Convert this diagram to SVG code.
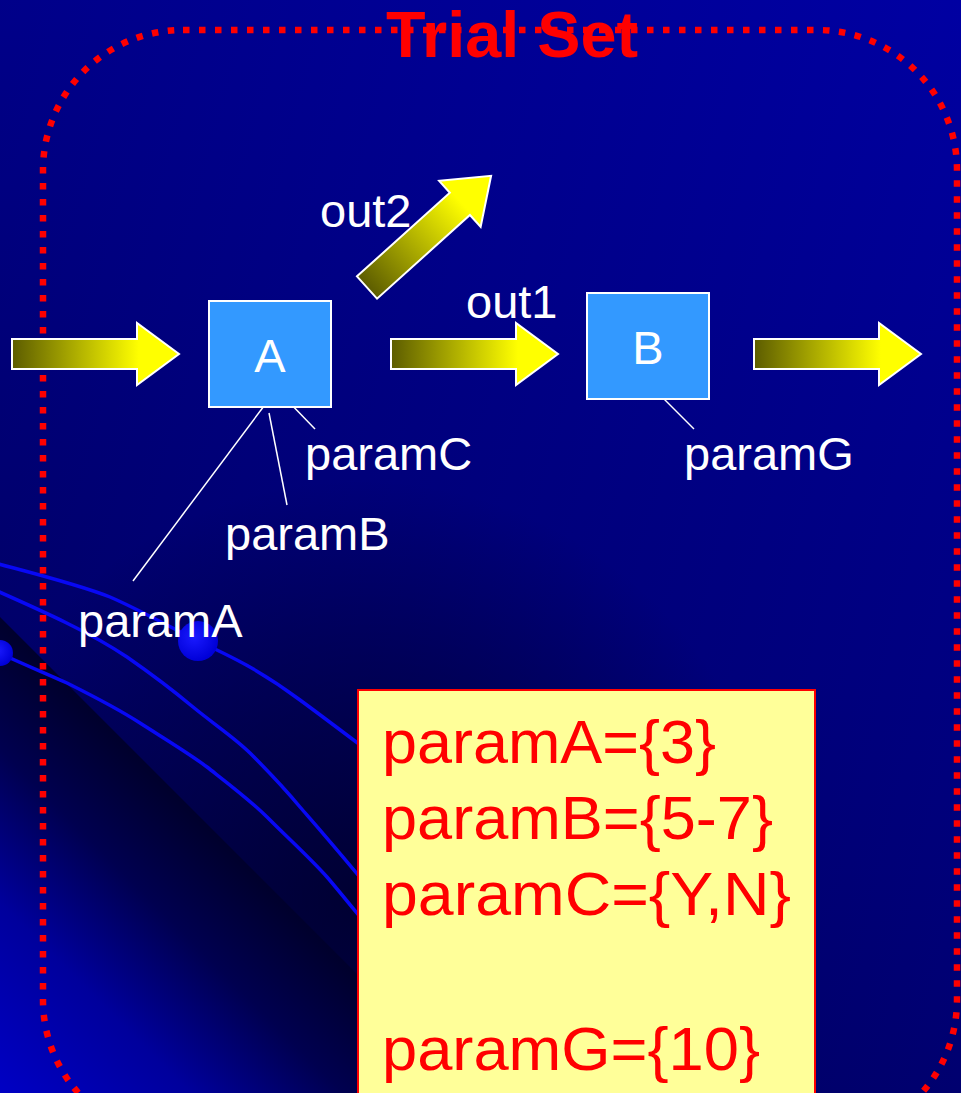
<svg xmlns="http://www.w3.org/2000/svg" width="961" height="1093" viewBox="0 0 961 1093">
<style>
  .lbl { font-family: "Liberation Sans", Arial, sans-serif; font-size: 47px; fill: #ffffff; }
  .node { fill: #3399ff; stroke: #ffffff; stroke-width: 2; }
  .lead { stroke: #ffffff; stroke-width: 1.5; fill: none; }
  .arrow { stroke: #ffffff; stroke-width: 2; stroke-linejoin: miter; }
  .curve { fill: none; stroke: #0808f4; stroke-width: 3.5; }
  .val { font-family: "Liberation Sans", Arial, sans-serif; font-size: 62px; fill: #ff0000; }
</style>
<defs>
  <linearGradient id="bgV" x1="0" y1="0" x2="0" y2="1">
    <stop offset="0" stop-color="#00009c"/>
    <stop offset="0.5" stop-color="#00007c"/>
    <stop offset="1" stop-color="#000062"/>
  </linearGradient>
  <linearGradient id="bgH" x1="0" y1="0" x2="1" y2="0">
    <stop offset="0" stop-color="#000000" stop-opacity="0.12"/>
    <stop offset="1" stop-color="#0000d0" stop-opacity="0.12"/>
  </linearGradient>
  <radialGradient id="darkSpot" cx="360" cy="900" r="420" gradientUnits="userSpaceOnUse">
    <stop offset="0" stop-color="#000020" stop-opacity="0.75"/>
    <stop offset="1" stop-color="#000020" stop-opacity="0"/>
  </radialGradient>
  <linearGradient id="corner" x1="0" y1="1093" x2="238" y2="855" gradientUnits="userSpaceOnUse">
    <stop offset="0" stop-color="#0000c4"/>
    <stop offset="0.4" stop-color="#00009c"/>
    <stop offset="0.72" stop-color="#000050"/>
    <stop offset="1" stop-color="#00002c"/>
  </linearGradient>
  <radialGradient id="dot" cx="0.4" cy="0.4" r="0.6">
    <stop offset="0" stop-color="#1a1aff"/>
    <stop offset="1" stop-color="#0000d8"/>
  </radialGradient>
  <linearGradient id="arrowFill" x1="0" y1="0" x2="1" y2="0">
    <stop offset="0" stop-color="#5c5c00"/>
    <stop offset="0.76" stop-color="#ffff00"/>
    <stop offset="1" stop-color="#ffff00"/>
  </linearGradient>
  <path id="arrowShape" d="M0,-15 H125 V-31 L167,0 L125,31 V15 H0 Z"/>
</defs>

<!-- background -->
<rect x="0" y="0" width="961" height="1093" fill="url(#bgV)"/>
<rect x="0" y="0" width="961" height="1093" fill="url(#bgH)"/>
<rect x="0" y="0" width="961" height="1093" fill="url(#darkSpot)"/>
<polygon points="0,617 476,1093 0,1093" fill="url(#corner)"/>

<!-- decorative curves -->
<g id="decor">
  <path class="curve" d="M-5,563 C40,575 80,585 110,597 C140,610 170,627 198,641 C230,656 260,670 300,700 C330,722 360,745 420,790"/>
  <path class="curve" d="M-5,590 C40,610 90,632 127,657 C150,673 175,692 193,707 C215,725 235,738 250,753 C270,773 290,795 300,807 C320,830 340,852 420,950"/>
  <path class="curve" d="M-5,651 C25,665 45,673 67,683 C95,697 120,710 140,723 C165,739 190,754 207,767 C230,785 250,800 267,817 C290,840 310,858 327,877 C340,892 350,905 420,990"/>
  <circle cx="198" cy="641" r="20" fill="url(#dot)"/>
  <circle cx="0" cy="653" r="13" fill="url(#dot)"/>
</g>

<!-- Trial set boundary -->
<g id="trialSet">
  <rect x="43" y="30" width="914" height="1110" rx="140" ry="140" fill="none" stroke="#ff0000" stroke-width="6.5" stroke-dasharray="6.5 9.5"/>
  <text x="512" y="57" text-anchor="middle" font-family="'Liberation Sans', Arial, sans-serif" font-size="65" font-weight="bold" fill="#ff0000" textLength="252" lengthAdjust="spacingAndGlyphs">Trial Set</text>
</g>

<!-- connectors -->
<g id="connectors">
  <use href="#arrowShape" class="arrow" fill="url(#arrowFill)" transform="translate(12,354)"/>
  <use href="#arrowShape" class="arrow" fill="url(#arrowFill)" transform="translate(391,354)"/>
  <use href="#arrowShape" class="arrow" fill="url(#arrowFill)" transform="translate(754,354)"/>
  <use href="#arrowShape" class="arrow" fill="url(#arrowFill)" transform="translate(367,287.5) rotate(-42)"/>
  <line class="lead" x1="270" y1="398" x2="133" y2="581"/>
  <line class="lead" x1="269" y1="413" x2="287" y2="505"/>
  <line class="lead" x1="285" y1="398" x2="315" y2="429"/>
  <line class="lead" x1="664" y1="399" x2="694" y2="429"/>
  <text class="lbl" x="320" y="227">out2</text>
  <text class="lbl" x="466" y="318">out1</text>
</g>

<g id="nodeA">
  <rect class="node" x="209" y="301" width="122" height="106"/>
  <text class="lbl" x="270" y="372" text-anchor="middle">A</text>
</g>
<g id="nodeB">
  <rect class="node" x="587" y="293" width="122" height="106"/>
  <text class="lbl" x="648" y="364" text-anchor="middle">B</text>
</g>

<g id="labels">
  <text class="lbl" x="305" y="470">paramC</text>
  <text class="lbl" x="225" y="550">paramB</text>
  <text class="lbl" x="78" y="637">paramA</text>
  <text class="lbl" x="684" y="470">paramG</text>
</g>

<g id="values">
  <rect x="358" y="690" width="457" height="430" fill="#ffff99" stroke="#ff0000" stroke-width="2"/>
  <text class="val" x="382" y="763" textLength="334" lengthAdjust="spacingAndGlyphs">paramA={3}</text>
  <text class="val" x="382" y="839" textLength="391" lengthAdjust="spacingAndGlyphs">paramB={5-7}</text>
  <text class="val" x="382" y="915" textLength="409" lengthAdjust="spacingAndGlyphs">paramC={Y,N}</text>
  <text class="val" x="382" y="1070" textLength="378" lengthAdjust="spacingAndGlyphs">paramG={10}</text>
</g>
</svg>
